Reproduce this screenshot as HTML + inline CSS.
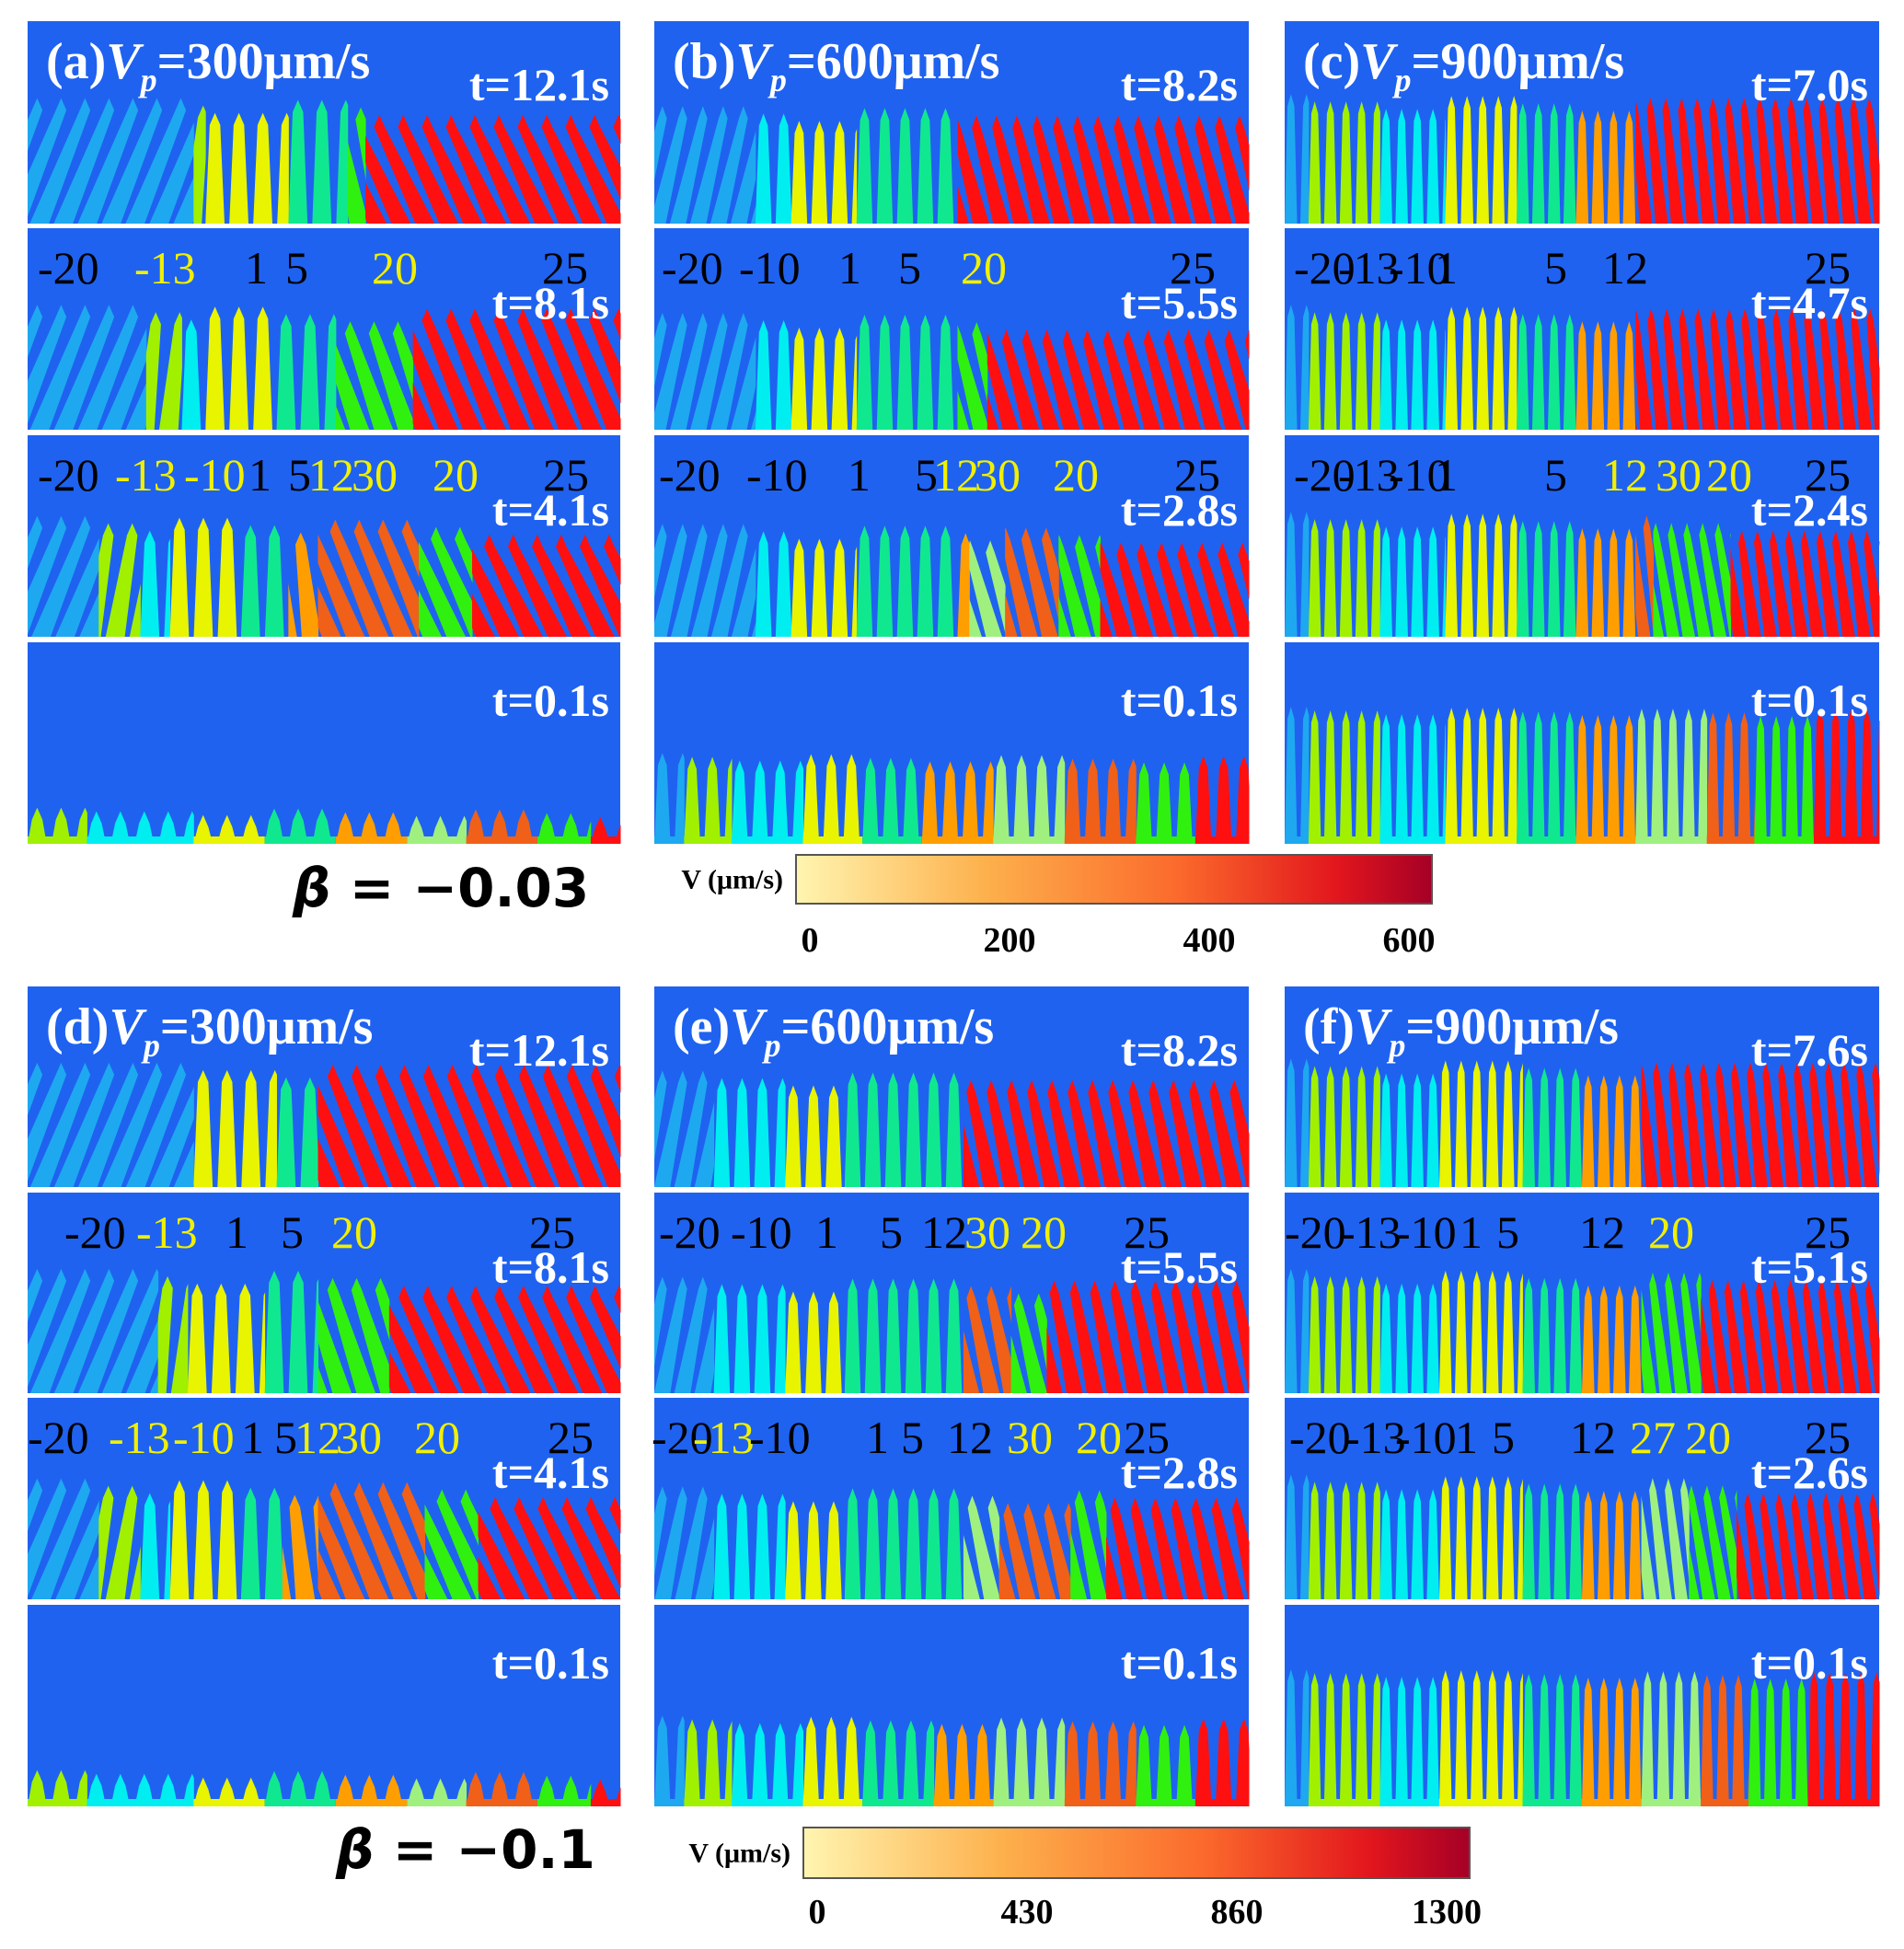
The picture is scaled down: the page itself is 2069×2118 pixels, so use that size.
<!DOCTYPE html>
<html><head><meta charset="utf-8">
<style>
html,body{margin:0;padding:0;background:#fff;}
body{width:2069px;height:2118px;position:relative;overflow:hidden;font-family:"Liberation Serif",serif;}
svg{position:absolute;left:0;top:0;}
</style></head>
<body>
<svg id="fig" width="2069" height="2118" viewBox="0 0 2069 2118" xmlns="http://www.w3.org/2000/svg">
<defs>
<linearGradient id="cmap" x1="0" x2="1" y1="0" y2="0">
<stop offset="0" stop-color="#fff5b0"/><stop offset="0.3" stop-color="#fdb04c"/><stop offset="0.6" stop-color="#fb6a2c"/><stop offset="0.85" stop-color="#e2161d"/><stop offset="1" stop-color="#a50026"/>
</linearGradient>
</defs>
</svg>
<script>
// grain palette
const palette = {B:'#1ea8f0',Y:'#e8f400',T:'#10e890',R:'#ff1010',G:'#30f010',O:'#ff9e00',C:'#00eef0',L:'#a0f000',P:'#a0f080',D:'#f06018'};
// column x ranges, row y ranges
const colX = [[30,674],[711,1357],[1396,2042]];
const rowYTop = [[23,243],[248,467],[473,692],[698,917]];
const rowYBot = [[1072,1290],[1296,1514],[1519,1738],[1744,1963]];
// panel titles
const titles = ['(a)','(b)','(c)','(d)','(e)','(f)'];
const speeds = ['300','600','900','300','600','900'];
const times = [['12.1','8.1','4.1','0.1'],['8.2','5.5','2.8','0.1'],['7.0','4.7','2.4','0.1'],['12.1','8.1','4.1','0.1'],['8.2','5.5','2.8','0.1'],['7.6','5.1','2.6','0.1']];
// grain layout per panel per row: [color, width fraction, tilt deg]
const grains = [
 [[['B',.28,20],['L',.02,5],['Y',.14,0],['T',.1,0],['G',.03,-10],['R',.43,-20]],
  [['B',.2,20],['L',.06,5],['C',.04,0],['Y',.12,0],['T',.1,0],['G',.13,-15],['R',.35,-20]],
  [['B',.12,20],['L',.07,8],['C',.05,0],['Y',.12,0],['T',.08,0],['O',.05,-5],['D',.17,-20],['G',.09,-20],['R',.25,-20]],
  [['L',.1,0],['C',.18,0],['Y',.12,0],['T',.12,0],['O',.12,0],['P',.1,0],['D',.12,0],['G',.09,0],['R',.05,0]]],
 [[['B',.17,12],['C',.06,0],['Y',.11,0],['T',.17,0],['R',.49,-12]],
  [['B',.17,12],['C',.06,0],['Y',.11,0],['T',.17,0],['G',.05,-12],['R',.44,-12]],
  [['B',.17,12],['C',.06,0],['Y',.11,0],['T',.17,0],['O',.02,0],['P',.06,-12],['D',.09,-12],['G',.07,-12],['R',.25,-12]],
  [['B',.05,0],['L',.08,0],['C',.12,0],['Y',.1,0],['T',.1,0],['O',.12,0],['P',.12,0],['D',.12,0],['G',.1,0],['R',.09,0]]],
 [[['B',.04,0],['L',.12,0],['C',.11,0],['Y',.12,0],['T',.1,0],['O',.1,0],['R',.41,-5]],
  [['B',.04,0],['L',.12,0],['C',.11,0],['Y',.12,0],['T',.1,0],['O',.1,0],['R',.41,-5]],
  [['B',.04,0],['L',.12,0],['C',.11,0],['Y',.12,0],['T',.1,0],['O',.1,0],['D',.03,-6],['G',.13,-8],['R',.25,-6]],
  [['B',.04,0],['L',.12,0],['C',.11,0],['Y',.12,0],['T',.1,0],['O',.1,0],['P',.12,0],['D',.08,0],['G',.1,0],['R',.11,0]]],
 [[['B',.28,20],['Y',.14,0],['T',.07,0],['R',.51,-20]],
  [['B',.22,20],['L',.05,5],['Y',.13,0],['T',.09,0],['G',.12,-15],['R',.39,-20]],
  [['B',.12,20],['L',.07,8],['C',.05,0],['Y',.12,0],['T',.07,0],['O',.06,-5],['D',.18,-20],['G',.09,-20],['R',.24,-20]],
  [['L',.1,0],['C',.18,0],['Y',.12,0],['T',.12,0],['O',.12,0],['P',.1,0],['D',.12,0],['G',.09,0],['R',.05,0]]],
 [[['B',.1,10],['C',.12,0],['Y',.1,0],['T',.2,0],['R',.48,-10]],
  [['B',.1,10],['C',.12,0],['Y',.1,0],['T',.2,0],['D',.08,-10],['G',.06,-10],['R',.34,-10]],
  [['B',.1,10],['C',.12,0],['Y',.1,0],['T',.2,0],['P',.06,-10],['D',.12,-10],['G',.06,-10],['R',.24,-10]],
  [['B',.05,0],['L',.08,0],['C',.12,0],['Y',.1,0],['T',.12,0],['O',.1,0],['P',.12,0],['D',.12,0],['G',.1,0],['R',.09,0]]],
 [[['B',.04,0],['L',.12,0],['C',.1,0],['Y',.14,0],['T',.1,0],['O',.1,0],['R',.4,-5]],
  [['B',.04,0],['L',.12,0],['C',.1,0],['Y',.14,0],['T',.1,0],['O',.1,0],['G',.1,-6],['R',.3,-6]],
  [['B',.04,0],['L',.12,0],['C',.1,0],['Y',.14,0],['T',.1,0],['O',.1,0],['P',.08,-6],['G',.08,-8],['R',.24,-6]],
  [['B',.04,0],['L',.12,0],['C',.1,0],['Y',.14,0],['T',.1,0],['O',.1,0],['P',.1,0],['D',.08,0],['G',.1,0],['R',.12,0]]]
];
// tip position (fraction of panel height) per column-type and row
const tipFrac = [[.38,.38,.4,.82],[.42,.42,.44,.55],[.36,.38,.38,.32]];
const spacing = [26,22,17];
// grain labels per panel, rows 2 and 3: [text, x offset, colour K/Y]
const labels = [
 [[['-20',11,'K'],['-13',116,'Y'],['1',236,'K'],['5',280,'K'],['20',374,'Y'],['25',559,'K']],
  [['-20',11,'K'],['-13',95,'Y'],['-10',170,'Y'],['1',240,'K'],['5',283,'K'],['12',305,'Y'],['30',352,'Y'],['20',440,'Y'],['25',560,'K']]],
 [[['-20',8,'K'],['-10',92,'K'],['1',200,'K'],['5',265,'K'],['20',333,'Y'],['25',560,'K']],
  [['-20',5,'K'],['-10',100,'K'],['1',210,'K'],['5',283,'K'],['12',303,'Y'],['30',348,'Y'],['20',433,'Y'],['25',565,'K']]],
 [[['-20',10,'K'],['-13',58,'K'],['-10',113,'K'],['1',163,'K'],['5',282,'K'],['12',345,'K'],['25',565,'K']],
  [['-20',10,'K'],['-13',58,'K'],['-10',113,'K'],['1',163,'K'],['5',282,'K'],['12',345,'Y'],['30',403,'Y'],['20',458,'Y'],['25',565,'K']]],
 [[['-20',40,'K'],['-13',118,'Y'],['1',215,'K'],['5',275,'K'],['20',330,'Y'],['25',545,'K']],
  [['-20',0,'K'],['-13',88,'Y'],['-10',158,'Y'],['1',232,'K'],['5',268,'K'],['12',290,'Y'],['30',335,'Y'],['20',420,'Y'],['25',565,'K']]],
 [[['-20',5,'K'],['-10',83,'K'],['1',175,'K'],['5',245,'K'],['12',290,'K'],['30',337,'Y'],['20',398,'Y'],['25',510,'K']],
  [['-20',-3,'K'],['-13',42,'Y'],['-10',103,'K'],['1',230,'K'],['5',268,'K'],['12',318,'K'],['30',383,'Y'],['20',458,'Y'],['25',510,'K']]],
 [[['-20',0,'K'],['-13',60,'K'],['-10',120,'K'],['1',190,'K'],['5',230,'K'],['12',320,'K'],['20',395,'Y'],['25',565,'K']],
  [['-20',5,'K'],['-13',65,'K'],['-10',120,'K'],['1',185,'K'],['5',225,'K'],['12',310,'K'],['27',375,'Y'],['20',435,'Y'],['25',565,'K']]]
];
const cbTicks1 = ['0','200','400','600'];
const cbTicks2 = ['0','430','860','1300'];

const NS='http://www.w3.org/2000/svg';
const svg=document.getElementById('fig');
function mk(tag,attrs,parent){const e=document.createElementNS(NS,tag);for(const k in attrs)e.setAttribute(k,attrs[k]);(parent||svg).appendChild(e);return e;}
let clipId=0;
for(let p=0;p<6;p++){
  const col=p%3, rows=p<3?rowYTop:rowYBot;
  const [x0,x1]=colX[col]; const W=x1-x0;
  const pg=mk('g',{});
  
  
  for(let r=0;r<4;r++){
    const [y0,y1]=rows[r]; const H=y1-y0;
    const rg=mk('g',{},pg);
    
    
    mk('rect',{x:x0,y:y0,width:W,height:H,fill:'#1f62f0'},rg);
    const tipY=y0+H*tipFrac[col][r];
    let gx=x0;
    grains[p][r].forEach((g,gi)=>{
      const gw=g[1]*W; const id='c'+(clipId++);
      const cp=mk('clipPath',{id:id},rg); mk('rect',{x:gx,y:y0,width:gw+0.5,height:H},cp);
      const gg=mk('g',{'clip-path':'url(#'+id+')'},rg);
      
      
      const sp=spacing[col]; const sh=Math.tan(g[2]*Math.PI/180)*(y1-tipY);
      const start=gx-Math.abs(sh)-sp, end=gx+gw+Math.abs(sh)+sp;
      const ty=tipY+((gi*37)%11)*(r===3?1:2);
      for(let bx=start;bx<end;bx+=sp){
        const tx=bx+sp*0.4+sh;
        mk('polygon',{points:`${bx},${y1} ${bx+sp*0.8},${y1} ${tx+sp*0.22},${ty+H*0.06} ${tx},${ty} ${tx-sp*0.22},${ty+H*0.06}`,fill:palette[g[0]]},gg);
      }
      if(r===3) mk('rect',{x:gx,y:y1-8,width:gw,height:8,fill:palette[g[0]]},gg);
      gx+=gw;
    });
    // time label
    const tyl = r===0?y0+86:(r===3?y0+80:y0+98);
    const tl=mk('text',{x:x1-12,y:tyl,'text-anchor':'end','font-size':50,'font-weight':'bold',fill:'#fff'},rg);
    tl.textContent='t='+times[p][r]+'s';
    
    
    if(r===1||r===2){
      labels[p][r-1].forEach(l=>{
        const t=mk('text',{x:x0+l[1],y:y0+60,'font-size':50,fill:l[2]==='K'?'#000':'#f0f000'},rg);
        t.textContent=l[0];
        
        
      });
    }
  }
  const tt=mk('text',{x:x0+20,y:rows[0][0]+62,'font-size':56,'font-weight':'bold',fill:'#fff'},pg);
  
  
  tt.innerHTML=titles[p]+'<tspan font-style="italic">V</tspan><tspan font-style="italic" font-size="36" dy="14">p</tspan><tspan dy="-14">='+speeds[p]+'μm/s</tspan>';
}
function colorbar(x,y,w,h,ticks,ty,name){
  const g=mk('g',{});
  
  
  mk('rect',{x:x,y:y,width:w,height:h,fill:'url(#cmap)',stroke:'#555','stroke-width':2},g);
  const lb=mk('text',{x:x-14,y:y+h/2+10,'text-anchor':'end','font-size':30,'font-weight':'bold',fill:'#000'},g);
  lb.textContent='V (μm/s)';
  ticks.forEach((t,i)=>{
    const tx=mk('text',{x:x+15+i*(w-40)/(ticks.length-1),y:ty,'text-anchor':'middle','font-size':38,'font-weight':'bold',fill:'#000'},g);
    tx.textContent=t;
  });
}
colorbar(865,929,691,53,cbTicks1,1034,'colorbar-top');
colorbar(873,1986,724,55,cbTicks2,2090,'colorbar-bottom');
const b1=mk('text',{x:318,y:985,'font-size':58,'font-weight':'bold','font-family':'DejaVu Sans, sans-serif',fill:'#000'});
b1.innerHTML='<tspan font-style="italic">β</tspan> = −0.03';


const b2=mk('text',{x:365,y:2030,'font-size':58,'font-weight':'bold','font-family':'DejaVu Sans, sans-serif',fill:'#000'});
b2.innerHTML='<tspan font-style="italic">β</tspan> = −0.1';


</script>
</body></html>
